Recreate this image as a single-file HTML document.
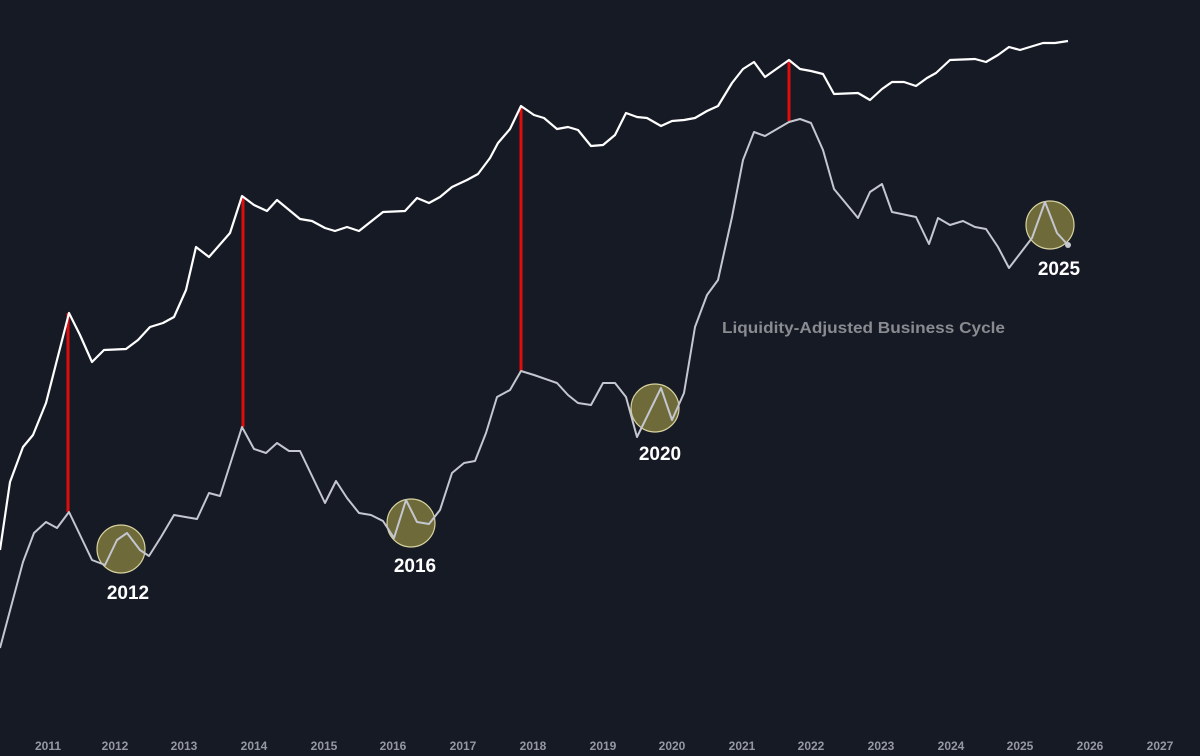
<!DOCTYPE html>
<html><head><meta charset="utf-8"><style>
html,body{margin:0;padding:0;background:#161a25;}
svg{display:block}
text{font-family:"Liberation Sans",sans-serif;font-weight:bold}
</style></head><body>
<svg width="1200" height="756" viewBox="0 0 1200 756">
<rect width="1200" height="756" fill="#161a25"/>
<g stroke="#e00d0d" stroke-width="3">
<line x1="68" y1="313" x2="68" y2="512"/>
<line x1="243" y1="196" x2="243" y2="427"/>
<line x1="521" y1="106" x2="521" y2="372"/>
<line x1="789" y1="60" x2="789" y2="121"/>
</g>
<g fill="#8c8540" fill-opacity="0.75" stroke="#d8d3a0" stroke-width="1.2">
<circle cx="121" cy="549" r="24"/>
<circle cx="411" cy="523" r="24"/>
<circle cx="655" cy="408" r="24"/>
<circle cx="1050" cy="225" r="24"/>
</g>
<polyline fill="none" stroke="#ffffff" stroke-width="2.2" stroke-linejoin="round" points="0,550 10,482 23,447 33,435 46,403 69,313 80,335 92,362 104,350 126,349 138,340 150,327 163,323 174,317 186,290 196,247 209,257 230,233 242,196 254,205 267,211 277,200 300,219 312,221 325,228 335,231 347,227 359,231 383,212 405,211 417,198 429,203 440,197 452,187 467,180 478,174 490,158 498,143 510,129 521,106 534,115 544,118 557,129 568,127 578,130 591,146 603,145 615,135 626,113 637,117 647,118 661,126 672,121 684,120 695,118 707,111 718,106 732,83 743,69 754,62 765,77 789,60 800,69 811,71 823,74 834,94 858,93 870,100 882,89 892,82 904,82 916,86 927,78 936,73 950,60 975,59 986,62 998,55 1009,47 1020,50 1043,43 1055,43 1068,41"/>
<polyline fill="none" stroke="#c4c6d0" stroke-width="2" stroke-linejoin="round" points="0,648 23,562 34,533 46,522 57,528 69,512 92,560 105,565 117,540 127,533 140,550 149,556 161,537 174,515 197,519 209,493 220,496 242,427 254,449 266,453 277,443 289,451 300,451 325,503 336,481 347,498 359,513 371,515 383,521 394,538 406,500 417,522 429,524 440,510 452,473 464,463 475,461 486,433 497,397 510,390 521,371 534,375 557,383 568,395 578,403 591,405 603,383 615,383 626,397 637,437 661,388 672,420 684,393 695,327 707,295 718,280 732,217 743,160 754,132 765,136 789,122 800,119 811,123 823,150 834,189 858,218 870,192 882,184 892,212 916,217 929,244 938,218 950,225 963,221 975,227 986,229 998,247 1009,268 1032,238 1045,202 1057,233 1068,245"/>
<circle cx="1068" cy="245" r="3" fill="#c4c6d0"/>
<g fill="#ffffff" font-size="19" text-anchor="middle">
<text x="128" y="599">2012</text>
<text x="415" y="572">2016</text>
<text x="660" y="460">2020</text>
<text x="1059" y="275">2025</text>
</g>
<text x="722" y="333" fill="#8a8b90" font-size="16" textLength="283" lengthAdjust="spacingAndGlyphs">Liquidity-Adjusted Business Cycle</text>
<g fill="#9598a1" font-size="12" text-anchor="middle">
<text x="48" y="750">2011</text><text x="115" y="750">2012</text><text x="184" y="750">2013</text><text x="254" y="750">2014</text><text x="324" y="750">2015</text><text x="393" y="750">2016</text><text x="463" y="750">2017</text><text x="533" y="750">2018</text><text x="603" y="750">2019</text><text x="672" y="750">2020</text><text x="742" y="750">2021</text><text x="811" y="750">2022</text><text x="881" y="750">2023</text><text x="951" y="750">2024</text><text x="1020" y="750">2025</text><text x="1090" y="750">2026</text><text x="1160" y="750">2027</text>
</g>
</svg>
</body></html>
